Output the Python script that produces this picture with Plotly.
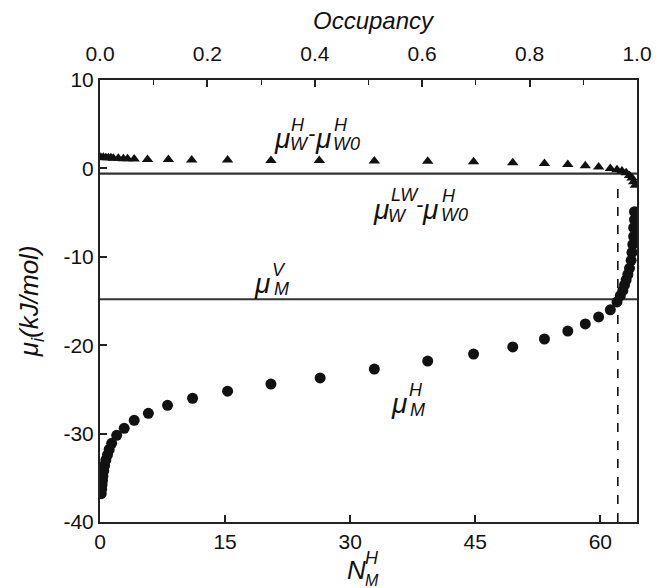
import plotly.graph_objects as go

# ---- data ----
tri_n = [0.1, 0.4, 0.7, 1.0, 1.3, 1.6, 2.2, 2.8, 3.3, 4.1, 5.7, 8.2, 11.0, 15.3, 20.5,
         26.3, 32.9, 39.3, 44.8, 49.5, 53.3, 56.1, 58.2, 59.8, 61.2, 62.0, 62.6, 63.1,
         63.5, 63.8, 64.0, 64.2]
tri_mu = [1.25, 1.25, 1.2, 1.2, 1.2, 1.15, 1.15, 1.1, 1.1, 1.05, 1.0, 1.0, 0.95, 0.95, 0.9,
          0.9, 0.85, 0.8, 0.75, 0.65, 0.55, 0.45, 0.3, 0.15, 0.0, -0.15, -0.3, -0.5,
          -0.8, -1.1, -1.5, -1.9]

circ_n = [0.15, 0.2, 0.25, 0.3, 0.35, 0.45, 0.55, 0.7, 0.9, 1.1, 1.4, 2.0, 2.9, 4.1, 5.8,
          8.1, 11.1, 15.3, 20.5, 26.4, 32.9, 39.3, 44.8, 49.5, 53.3, 56.1, 58.2, 59.8,
          61.2, 62.0, 62.4, 62.7, 62.9, 63.1, 63.3, 63.5, 63.7, 63.8, 63.9, 64.0, 64.0,
          64.1, 64.1]
circ_mu = [-36.8, -36.3, -35.8, -35.3, -34.8, -34.2, -33.6, -33.0, -32.4, -31.8, -31.1,
           -30.2, -29.4, -28.5, -27.7, -26.8, -26.0, -25.2, -24.4, -23.7, -22.7, -21.8,
           -21.0, -20.2, -19.3, -18.4, -17.6, -16.8, -16.0, -15.1, -14.4, -13.8, -13.2,
           -12.6, -12.0, -11.3, -10.4, -9.5, -8.6, -7.7, -6.7, -5.8, -4.9]

mu_lw_level = -0.6      # mu_W^LW - mu_W0^H
mu_v_level = -14.8      # mu_M^V
n_sat = 62.1            # dashed line position
n_max = 64.4            # occupancy = 1

x_ticks = [0, 15, 30, 45, 60]
x_labels = ["0", "15", "30", "45", "60"]
y_ticks = [10, 0, -10, -20, -30, -40]
y_labels = ["10", "0", "-10", "-20", "-30", "-40"]
occ_ticks = [0.0, 0.2, 0.4, 0.6, 0.8, 1.0]
occ_labels = ["0.0", "0.2", "0.4", "0.6", "0.8", "1.0"]

FONT = "Liberation Sans, Arial, sans-serif"
INK = "#111111"

fig = go.Figure()
fig.add_trace(go.Scatter(x=[0, n_max], y=[mu_lw_level, mu_lw_level], mode="lines",
                         line=dict(color="#333333", width=2.2), hoverinfo="skip"))
fig.add_trace(go.Scatter(x=[0, n_max], y=[mu_v_level, mu_v_level], mode="lines",
                         line=dict(color="#333333", width=2.2), hoverinfo="skip"))
fig.add_trace(go.Scatter(x=[n_sat, n_sat], y=[-40, -1.3], mode="lines",
                         line=dict(color=INK, width=1.6, dash="dash"), hoverinfo="skip"))
fig.add_trace(go.Scatter(x=tri_n, y=tri_mu, mode="markers",
                         marker=dict(symbol="triangle-up", size=10, color=INK)))
fig.add_trace(go.Scatter(x=circ_n, y=circ_mu, mode="markers",
                         marker=dict(symbol="circle", size=11, color=INK)))
# invisible trace to carry the top (occupancy) axis
fig.add_trace(go.Scatter(x=[0, 1], y=[-100, -100], xaxis="x2", mode="markers",
                         marker=dict(opacity=0), hoverinfo="skip"))

axis_common = dict(showgrid=False, zeroline=False, showline=True, linecolor="#222222",
                   linewidth=2, ticks="inside", tickcolor="#222222", tickwidth=1.5,
                   ticklen=7, tickfont=dict(family=FONT, size=21, color=INK))

fig.update_layout(
    width=664, height=588,
    margin=dict(l=100, r=16, t=80, b=66),
    paper_bgcolor="white", plot_bgcolor="white",
    showlegend=False,
    xaxis=dict(range=[0, n_max], tickvals=x_ticks, ticktext=x_labels, **axis_common),
    xaxis2=dict(range=[0, 1], overlaying="x", side="top", tickvals=occ_ticks,
                ticktext=occ_labels, ticklabelstandoff=9,
                minor=dict(ticks="inside", dtick=0.1, tick0=0, ticklen=5,
                           tickcolor="#222222", tickwidth=1.2),
                **axis_common),
    yaxis=dict(range=[-40, 10], tickvals=y_ticks, ticktext=y_labels, mirror=True,
               **axis_common),
)

ann = []


def piece(x, y, text, size, xs=0, ys=0, xref="x", yref="y"):
    ann.append(dict(x=x, y=y, xref=xref, yref=yref, text="<i>" + text + "</i>",
                    showarrow=False, xshift=xs, yshift=ys, xanchor="center",
                    yanchor="middle",
                    font=dict(family=FONT, size=size, color=INK)))


BIG, SMALL = 28, 18

# mu_W^H - mu_W0^H
ax, ay = 21.8, 3.4
piece(ax, ay, "μ", BIG)
piece(ax, ay, "H", SMALL, 16, 13)
piece(ax, ay, "W", SMALL, 18, -6)
piece(ax, ay, "-", 22, 30, 5)
piece(ax, ay, "μ", BIG, 41)
piece(ax, ay, "H", SMALL, 59, 13)
piece(ax, ay, "W0", SMALL, 65, -6)

# mu_W^LW - mu_W0^H
bx, by = 33.65, -4.6
piece(bx, by, "μ", BIG)
piece(bx, by, "LW", SMALL, 24, 14)
piece(bx, by, "W", SMALL, 17, -7)
piece(bx, by, "-", 22, 39, 5)
piece(bx, by, "μ", BIG, 49)
piece(bx, by, "H", SMALL, 68, 13)
piece(bx, by, "W0", SMALL, 74, -6)

# mu_M^V
cx, cy = 19.45, -13.0
piece(cx, cy, "μ", BIG)
piece(cx, cy, "V", SMALL, 17, 13)
piece(cx, cy, "M", SMALL, 19, -6)

# mu_M^H
dx, dy = 35.8, -26.6
piece(dx, dy, "μ", BIG)
piece(dx, dy, "H", SMALL, 17, 14)
piece(dx, dy, "M", SMALL, 19, -6)

# bottom axis title N_M^H
piece(30.8, -0.108, "N", 26, 0, 0, "x", "paper")
piece(30.8, -0.108, "H", SMALL, 15, 12, "x", "paper")
piece(30.8, -0.108, "M", 16, 15, -11, "x", "paper")

# top axis title
ann.append(dict(x=0.51, y=1.135, xref="paper", yref="paper", text="<i>Occupancy</i>",
                showarrow=False, xanchor="center", yanchor="middle",
                font=dict(family=FONT, size=24, color=INK)))

# y axis title
ann.append(dict(x=-0.13, y=0.5, xref="paper", yref="paper", textangle=-90,
                xanchor="center", yanchor="middle",
                text="<i>μ<sub>i</sub>(kJ/mol)</i>", showarrow=False,
                font=dict(family=FONT, size=26, color=INK)))

fig.update_layout(annotations=ann)
fig.write_html("out.html")
